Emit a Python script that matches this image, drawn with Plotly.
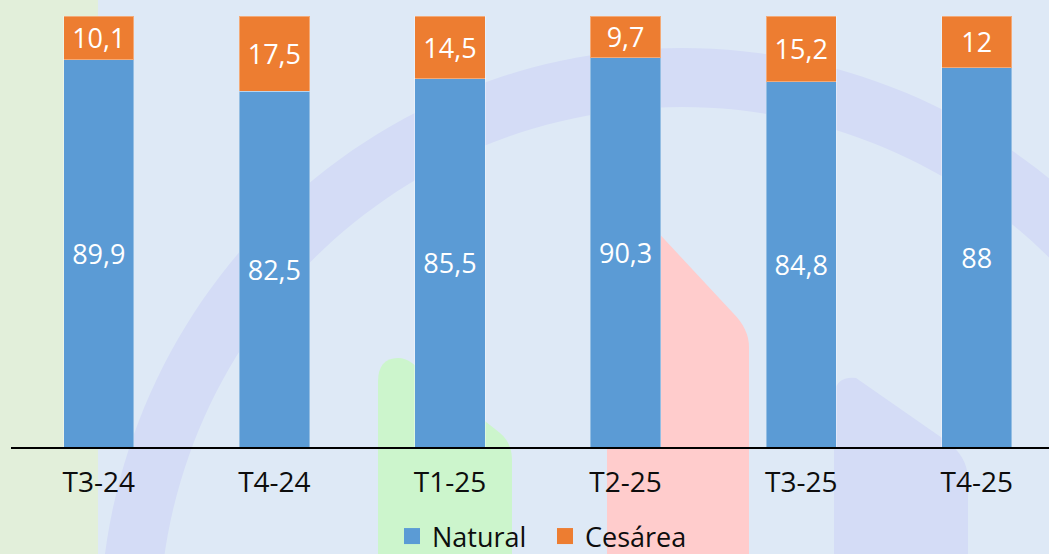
import numpy as np
import plotly.graph_objects as go

categories = ["T3-24", "T4-24", "T1-25", "T2-25", "T3-25", "T4-25"]
natural = [89.9, 82.5, 85.5, 90.3, 84.8, 88]
cesarea = [10.1, 17.5, 14.5, 9.7, 15.2, 12]
series_names = ["Natural", "Cesárea"]
series_colors = ["#5B9BD5", "#ED7D31"]

W, H = 1049, 554
ML, MR, MT, MB = 11, 0, 16, 107
PW, PH = W - ML - MR, H - MT - MB
BAND = 175.6


def fmt(v):
    return f"{v:g}".replace(".", ",")


def px(x, y):
    return (x - ML) / PW, (H - MB - y) / PH


def path_from(cmds):
    out = []
    for c in cmds:
        op, pts = c[0], c[1:]
        coords = []
        for i in range(0, len(pts), 2):
            a, b = px(pts[i], pts[i + 1])
            coords.append(f"{a:.5f},{b:.5f}")
        out.append(op + " ".join(coords))
    return " ".join(out) + " Z"


def circle_path(cx, cy, r, n=240):
    t = np.linspace(0, 2 * np.pi, n, endpoint=False)
    pts = [px(cx + r * np.cos(a), cy + r * np.sin(a)) for a in t]
    return "M" + " L".join(f"{a:.5f},{b:.5f}" for a, b in pts) + " Z"


shapes = []
x0, y0 = px(0, -5)
x1, y1 = px(98, H + 10)
shapes.append(dict(type="rect", xref="paper", yref="paper", x0=x0, y0=y0, x1=x1, y1=y1,
                   fillcolor="#E2EFDA", line_width=0, layer="below"))
ring = circle_path(682, 630, 582) + " " + circle_path(682, 630, 523)
shapes.append(dict(type="path", xref="paper", yref="paper", path=ring, fillcolor="#D4DCF6",
                   line_width=0, layer="below", fillrule="evenodd"))
pink = path_from([("M", 607, 560), ("L", 607, 200), ("Q", 607, 182, 625, 197), ("L", 733, 313),
                  ("Q", 749, 329, 749, 347), ("L", 749, 560)])
shapes.append(dict(type="path", xref="paper", yref="paper", path=pink, fillcolor="#FFCCCC",
                   line_width=0, layer="below"))
green = path_from([("M", 378, 560), ("L", 378, 382), ("Q", 378, 358, 398, 358), ("Q", 405, 358, 412, 363),
                   ("L", 500, 433), ("Q", 512, 443, 512, 460), ("L", 512, 560)])
shapes.append(dict(type="path", xref="paper", yref="paper", path=green, fillcolor="#CCF5CC",
                   line_width=0, layer="below"))
lav = path_from([("M", 834, 560), ("L", 834, 398), ("Q", 834, 376, 856, 378), ("L", 945, 440),
                 ("Q", 968, 456, 968, 480), ("L", 968, 560)])
shapes.append(dict(type="path", xref="paper", yref="paper", path=lav, fillcolor="#D4DCF6",
                   line_width=0, layer="below"))

fig = go.Figure()
for name, vals, col in zip(series_names, [natural, cesarea], series_colors):
    fig.add_trace(go.Bar(
        x=categories, y=vals, name=name, marker_color=col,
        marker_line=dict(color="rgba(255,255,255,0.35)", width=1),
        text=[fmt(v) for v in vals], textposition="inside", insidetextanchor="middle",
        constraintext="none", textangle=0,
        textfont=dict(color="white", size=27, family="Open Sans"),
        showlegend=False, width=0.4,
    ))
for name, col in zip(series_names, series_colors):
    fig.add_trace(go.Scatter(x=[None], y=[None], mode="markers", name=name,
                             marker=dict(symbol="square", size=16, color=col), showlegend=True))

lx, ly = px(392, 512)
fig.update_layout(
    width=W, height=H, barmode="stack",
    margin=dict(l=ML, r=MR, t=MT, b=MB, pad=0, autoexpand=False),
    paper_bgcolor="#DEE9F6", plot_bgcolor="rgba(0,0,0,0)",
    font=dict(family="Open Sans", color="#0D0D0D"),
    shapes=shapes,
    showlegend=True,
    legend=dict(orientation="h", x=lx, y=ly, xanchor="left", yanchor="top",
                font=dict(size=27, color="#0D0D0D"), itemsizing="trace",
                entrywidth=108, entrywidthmode="pixels", bgcolor="rgba(0,0,0,0)",
                traceorder="normal"),
    xaxis=dict(type="category", range=[-0.5, -0.5 + PW / BAND], showgrid=False,
               showline=True, linecolor="black", linewidth=2, ticks="",
               tickfont=dict(size=28, color="#0D0D0D"), ticklabelstandoff=9, zeroline=False),
    yaxis=dict(range=[0, 100], visible=False, showgrid=False, zeroline=False),
)
fig.write_html("out.html", config={"displayModeBar": False},
               post_script="document.body.style.margin='0';document.body.style.overflow='hidden';")
